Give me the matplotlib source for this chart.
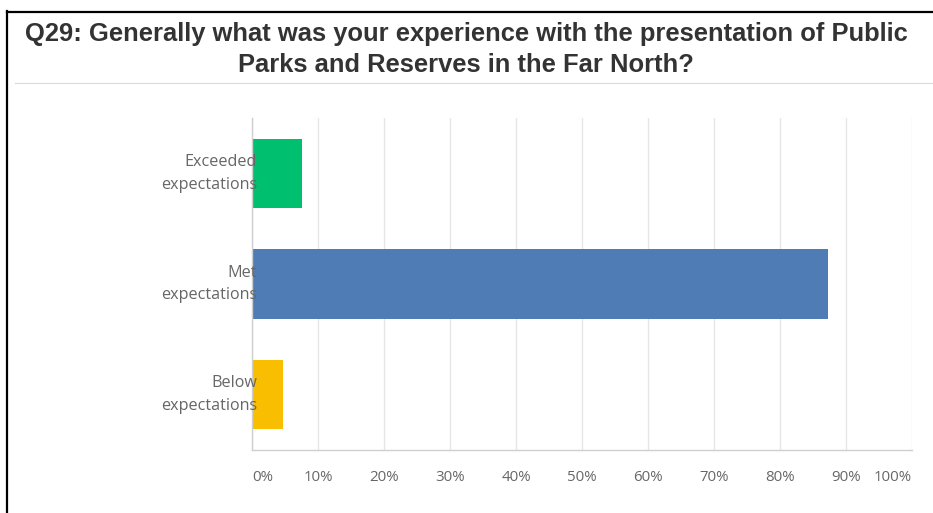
import matplotlib
matplotlib.use("Agg")
import matplotlib.pyplot as plt
from matplotlib.lines import Line2D

# survey answers (percent of respondents)
categories = ["Exceeded\nexpectations", "Met\nexpectations", "Below\nexpectations"]
percents = [7.6, 87.2, 4.7]
bar_colors = ["#00bf6f", "#507cb6", "#f9be00"]
x_ticks = [0, 10, 20, 30, 40, 50, 60, 70, 80, 90, 100]
x_tick_labels = ["%d%%" % t for t in x_ticks]

title_1 = "Q29: Generally what was your experience with the presentation of Public"
title_2 = "Parks and Reserves in the Far North?"

W, H = 933, 513
fig = plt.figure(figsize=(W / 100, H / 100), dpi=100)
fig.patch.set_facecolor("white")

ax = fig.add_axes([252 / W, (H - 450) / H, 660 / W, 332 / H])
ypos = list(range(len(categories)))
ax.barh(ypos, percents, height=0.625, color=bar_colors, zorder=2)
ax.set_ylim(2.5, -0.5)
ax.set_xlim(0, 100)

ax.set_xticks(x_ticks)
ax.set_xticklabels(x_tick_labels)
ax.set_yticks([])
ax.tick_params(axis="x", length=0, pad=14.5, labelsize=10.8, labelcolor="#666666")
for i, lab in enumerate(ax.get_xticklabels()):
    lab.set_fontfamily("Open Sans")
    if i == 0:
        lab.set_horizontalalignment("left")
    elif i == len(x_ticks) - 1:
        lab.set_horizontalalignment("right")

# category names sit just over the bar start
trans = ax.get_yaxis_transform()
for y, name in zip(ypos, categories):
    ax.text(5 / 660, y, name, transform=trans, ha="right", va="center",
            fontsize=11.6, color="#666666", family="Open Sans",
            linespacing=1.55, zorder=3, clip_on=False)

ax.grid(axis="x", color="#e6e6e6", linewidth=1.0, zorder=0)
ax.set_axisbelow(True)
for s in ["top", "right"]:
    ax.spines[s].set_visible(False)
ax.spines["left"].set_color("#cfcfcf")
ax.spines["bottom"].set_color("#cfcfcf")
ax.spines["left"].set_linewidth(1.0)
ax.spines["bottom"].set_linewidth(1.0)

# heading
fig.text(466 / W, 1 - 41 / H, title_1, ha="center", va="baseline",
         fontsize=18.4, fontweight="bold", color="#333333", family="Liberation Sans")
fig.text(466 / W, 1 - 72 / H, title_2, ha="center", va="baseline",
         fontsize=18.4, fontweight="bold", color="#333333", family="Liberation Sans")

# frame lines
fig.add_artist(Line2D([7 / W, 1], [1 - 11.5 / H] * 2, color="black", linewidth=1.6))
fig.add_artist(Line2D([7.5 / W] * 2, [0, 1 - 11 / H], color="black", linewidth=1.6))
fig.add_artist(Line2D([15 / W, 1], [1 - 83 / H] * 2, color="#dadada", linewidth=0.8))

fig.savefig("out.png", dpi=100)
